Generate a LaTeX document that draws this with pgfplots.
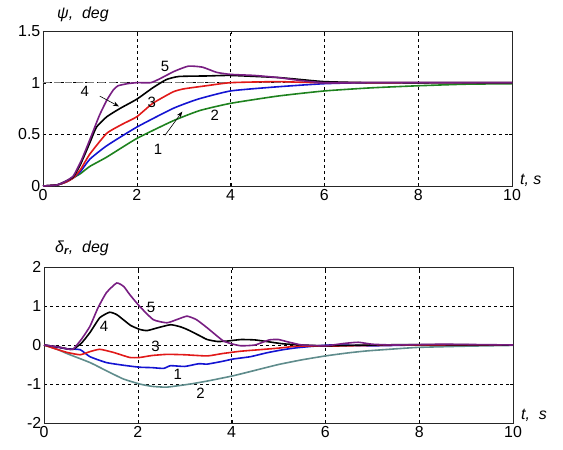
\documentclass[border=0pt]{standalone}
\usepackage{fontspec}
\setmainfont{Liberation Sans}
\usepackage{pgfplots}
\pgfplotsset{compat=1.18}
\usetikzlibrary{arrows.meta}

\definecolor{c5}{RGB}{120,30,130}
\definecolor{c4}{RGB}{0,0,0}
\definecolor{c3}{RGB}{225,25,25}
\definecolor{c1}{RGB}{20,20,210}
\definecolor{c2}{RGB}{30,130,30}
\definecolor{c2b}{RGB}{95,140,140}

\tikzset{lbl/.style={font=\fontsize{15}{17}\selectfont}}
\pgfplotsset{
  sim/.style={
    scale only axis, width=469bp,
    xmin=0, xmax=10, xtick={0,2,...,10},
    grid=major,
    major grid style={black, line width=0.5bp, dash pattern=on 3bp off 3bp},
    axis line style={line width=0.8bp, black!85},
    tick style={black}, tick align=inside, major tick length=3bp,
    ticklabel style={font=\fontsize{16}{18}\selectfont},
    yticklabel style={inner sep=2.5bp},
    /pgf/number format/assume math mode=true,
    clip=false,
    every axis plot/.append style={line width=1.6bp, smooth, tension=0.3},
  },
}

\begin{document}
\begin{tikzpicture}
\path[use as bounding box] (0,0) rectangle (563bp,450bp);

% heading angle
\begin{axis}[sim, at={(43bp,264bp)}, anchor=south west, height=155bp,
  ymin=0, ymax=1.5, ytick={0,0.5,1,1.5}]
  \addplot[gray, line width=0.7bp, dash pattern=on 7bp off 4bp, smooth=false] coordinates {(0,1) (10,1)};
  \addplot[c2] coordinates {(0,0) (0.3,0.01) (0.5,0.04) (0.65,0.08) (0.8,0.12) (1.0,0.19) (1.36,0.28) (2.0,0.46) (2.77,0.63) (3.34,0.73) (4.0,0.80) (5.0,0.87) (6.0,0.92) (7.0,0.95) (8.0,0.97) (9,0.985) (10,0.99)};
  \addplot[c1] coordinates {(0,0) (0.3,0.01) (0.5,0.04) (0.65,0.08) (0.8,0.14) (1.0,0.26) (1.36,0.39) (2.0,0.57) (2.77,0.75) (3.3,0.84) (4.0,0.92) (5,0.96) (6,0.99) (7,1.0) (10,1.0)};
  \addplot[c3] coordinates {(0,0) (0.3,0.01) (0.5,0.04) (0.65,0.08) (0.8,0.16) (1.0,0.31) (1.36,0.51) (1.7,0.60) (2.0,0.67) (2.34,0.80) (2.77,0.91) (3.0,0.94) (3.48,0.97) (4.0,1.0) (5,1.01) (6,1.0) (10,1.0)};
  \addplot[c4] coordinates {(0,0) (0.3,0.01) (0.5,0.05) (0.65,0.09) (0.8,0.21) (1.0,0.42) (1.14,0.57) (1.36,0.67) (1.64,0.75) (2.0,0.84) (2.34,0.95) (2.63,1.03) (2.9,1.06) (3.5,1.065) (4,1.07) (5,1.05) (5.5,1.03) (6,1.01) (7,1.0) (10,1.0)};
  \addplot[c5] coordinates {(0,0) (0.3,0.01) (0.5,0.05) (0.65,0.1) (0.82,0.25) (1.0,0.45) (1.2,0.68) (1.36,0.83) (1.5,0.93) (1.6,0.97) (1.8,0.99) (2.0,1.0) (2.3,1.0) (2.5,1.04) (2.8,1.11) (3.1,1.16) (3.4,1.15) (3.7,1.10) (4.0,1.08) (4.5,1.07) (5.0,1.05) (5.5,1.02) (6,1.0) (7,1.0) (10,1.0)};
  \node[lbl] at (axis cs:2.6,1.16) {5};
  \node[lbl] at (axis cs:0.89,0.92) {4};
  \node[lbl] at (axis cs:2.32,0.81) {3};
  \node[lbl] at (axis cs:3.66,0.68) {2};
  \node[lbl] at (axis cs:2.45,0.35) {1};
  \draw[line width=0.6bp, -{Stealth[length=6bp]}] (axis cs:1.21,0.87) -- (axis cs:1.62,0.77);
  \draw[line width=0.6bp, -{Stealth[length=6bp]}] (axis cs:2.6,0.49) -- (axis cs:2.97,0.72);
  \node[anchor=base west, inner sep=0pt, font=\fontsize{16}{18}\selectfont\itshape] at ([xshift=14bp,yshift=12.5bp]rel axis cs:0,1) {ψ,\ \ deg};
  \node[anchor=base west, inner sep=0pt, font=\fontsize{16}{18}\selectfont\itshape] at ([xshift=8bp,yshift=1bp]rel axis cs:1,0) {t,\ s};
\end{axis}

% rudder angle
\begin{axis}[sim, at={(44bp,27bp)}, anchor=south west, height=156bp,
  ymin=-2, ymax=2, ytick={-2,-1,0,1,2}]
  \addplot[c2b] coordinates {(0,0) (0.3,-0.12) (0.49,-0.22) (0.98,-0.45) (1.33,-0.66) (1.69,-0.87) (2.04,-1.0) (2.3,-1.06) (2.62,-1.08) (3.12,-1.0) (3.5,-0.92) (4.03,-0.79) (4.5,-0.65) (5.0,-0.5) (5.5,-0.38) (6.0,-0.28) (6.5,-0.2) (6.9,-0.15) (7.6,-0.09) (8,-0.06) (9,-0.03) (10,-0.01)};
  \addplot[c1] coordinates {(0,0) (0.3,-0.06) (0.5,-0.1) (0.77,-0.12) (0.98,-0.3) (1.33,-0.45) (1.7,-0.52) (2.04,-0.57) (2.3,-0.58) (2.55,-0.6) (2.7,-0.53) (3.0,-0.55) (3.3,-0.48) (3.48,-0.49) (3.8,-0.42) (4.03,-0.36) (4.4,-0.3) (4.75,-0.2) (5.1,-0.12) (5.4,-0.07) (6.1,0.0) (7,-0.02) (8,0.0) (10,0.0)};
  \addplot[c3] coordinates {(0,0) (0.3,-0.12) (0.49,-0.19) (0.77,-0.25) (0.98,-0.17) (1.19,-0.11) (1.48,-0.19) (1.83,-0.32) (2.04,-0.32) (2.3,-0.27) (2.62,-0.24) (3.0,-0.25) (3.48,-0.28) (3.8,-0.22) (4.19,-0.16) (4.6,-0.12) (5.0,-0.08) (5.4,-0.03) (6,-0.03) (7,-0.01) (8,0.0) (10,0.0)};
  \addplot[c4] coordinates {(0,0) (0.3,-0.05) (0.5,-0.1) (0.62,-0.11) (0.8,0.05) (0.98,0.32) (1.19,0.7) (1.4,0.84) (1.55,0.78) (1.69,0.65) (1.85,0.5) (2.04,0.4) (2.2,0.37) (2.45,0.45) (2.7,0.52) (2.9,0.47) (3.05,0.4) (3.3,0.25) (3.48,0.14) (3.7,0.09) (3.9,0.1) (4.2,0.14) (4.5,0.13) (4.8,0.08) (5.1,0.03) (5.5,0.0) (6,-0.02) (7,0.0) (8,0.01) (10,0.0)};
  \addplot[c5] coordinates {(0,0) (0.3,-0.05) (0.5,-0.1) (0.62,-0.11) (0.8,0.15) (0.98,0.48) (1.15,0.95) (1.33,1.34) (1.55,1.59) (1.7,1.5) (1.83,1.29) (2.04,0.99) (2.33,0.65) (2.62,0.57) (2.85,0.66) (3.05,0.74) (3.25,0.65) (3.48,0.44) (3.7,0.22) (3.83,0.1) (4.0,0.03) (4.2,-0.02) (4.5,0.0) (4.8,0.13) (5.0,0.14) (5.2,0.08) (5.5,0.0) (6.0,-0.02) (6.4,0.04) (6.7,0.07) (7.0,0.02) (7.5,0.0) (8.5,0.02) (10,0.0)};
  \node[lbl] at (axis cs:2.28,0.96) {5};
  \node[lbl] at (axis cs:1.28,0.47) {4};
  \node[lbl] at (axis cs:2.38,-0.03) {3};
  \node[lbl] at (axis cs:2.85,-0.75) {1};
  \node[lbl] at (axis cs:3.34,-1.23) {2};
  \node[anchor=base west, inner sep=0pt, font=\fontsize{16}{18}\selectfont\itshape] at ([xshift=11bp,yshift=15bp]rel axis cs:0,1) {δ\textsubscript{\bfseries r},\ \ deg};
  \node[anchor=base west, inner sep=0pt, font=\fontsize{16}{18}\selectfont\itshape] at ([xshift=8bp,yshift=4bp]rel axis cs:1,0) {t,\ \ s};
\end{axis}
\end{tikzpicture}
\end{document}
